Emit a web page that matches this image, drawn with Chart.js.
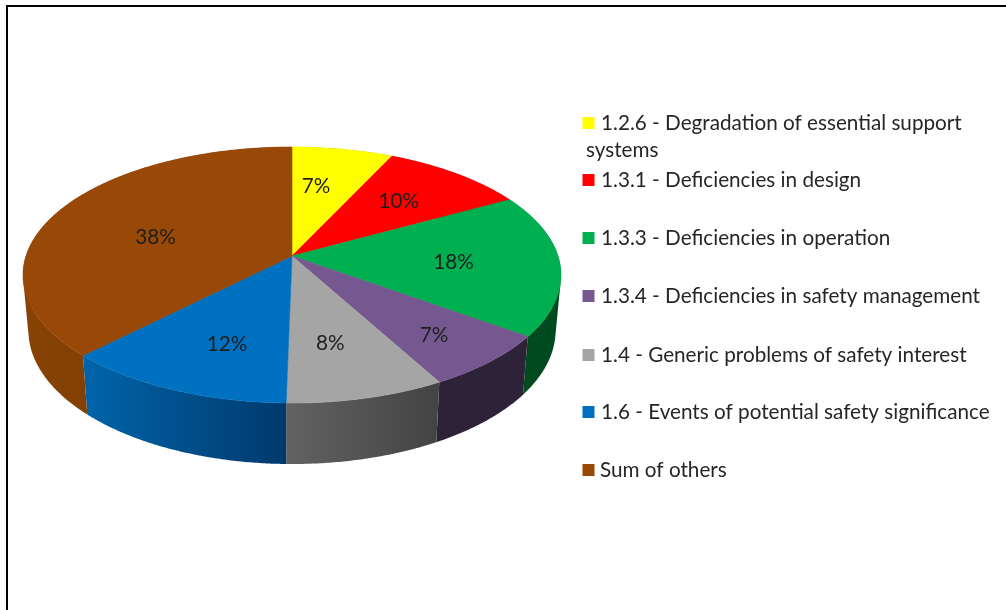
<!DOCTYPE html>
<html>
<head>
<meta charset="utf-8">
<style>
html,body{margin:0;padding:0;background:#fff;overflow:hidden}
#wrap{position:relative;width:1006px;height:610px}
#frame{position:absolute;left:6px;top:5px;right:0;bottom:0;border-left:2px solid #000;border-top:2px solid #000}
canvas{position:absolute;left:0;top:0}
</style>
<script src="https://cdn.jsdelivr.net/npm/chart.js@4/dist/chart.umd.js"></script>
</head>
<body>
<div id="wrap"><div id="frame"></div><canvas id="c" width="1006" height="610"></canvas></div>
<script>
const categories = [
  "1.2.6 - Degradation of essential support systems",
  "1.3.1 - Deficiencies in design",
  "1.3.3 - Deficiencies in operation",
  "1.3.4 - Deficiencies in safety management",
  "1.4 - Generic problems of safety interest",
  "1.6 - Events of potential safety significance",
  "Sum of others"
];
const shareValues = [7.0, 10.0, 18.0, 7.0, 8.3, 12.1, 37.6];
const faceColors = ["#FFFF00", "#FF0000", "#00B050", "#74588F", "#A5A5A5", "#0070C0", "#984807"];
const wallLeftColors = ["#8A8A00", "#8A0000", "#004A20", "#2E2238", "#626262", "#0064AA", "#874204"];
const wallRightColors = ["#8A8A00", "#8A0000", "#004A20", "#2E2238", "#434343", "#003A6C", "#783902"];
const FONT = 'Lato, Carlito, sans-serif';
const FONT_SIZE = 20.7;

// Perspective projection of the flat pie disc (tilted towards the viewer).
const K = 0.1484, SX = 266 / 246, SY = 125.2 / 246;
function project(el, angle, frac) {
  const t = angle + Math.PI / 2, s = Math.sin(t) * frac, c = Math.cos(t) * frac;
  const w = 1 + K * c, R = el.outerRadius;
  return { x: el.x + R * SX * s / w, y: el.y - R * SY * c / w };
}
function lower(el, p) { // rim of the underside of the disc
  return { x: el.x + (p.x - el.x) * 0.98, y: el.y + (p.y - el.y) * 1.045 + 54.4 };
}
function arcPoints(el) {
  const pts = [], a = el.startAngle, b = el.endAngle, n = Math.max(2, Math.ceil((b - a) / 0.008));
  for (let i = 0; i <= n; i++) pts.push(project(el, a + (b - a) * i / n, 1));
  return pts;
}

class Arc3D extends Chart.ArcElement {
  static id = 'arc3d';
  draw(ctx) {
    const pts = arcPoints(this), col = this.options.backgroundColor;
    ctx.save();
    ctx.beginPath();
    ctx.moveTo(this.x, this.y);
    pts.forEach(p => ctx.lineTo(p.x, p.y));
    ctx.closePath();
    ctx.fillStyle = col;
    ctx.strokeStyle = col;
    ctx.lineWidth = 0.6;
    ctx.lineJoin = 'round';
    ctx.fill();
    ctx.stroke();
    ctx.restore();
  }
}

class Pie3DController extends Chart.PieController {
  static id = 'pie3d';
  static defaults = { dataElementType: 'arc3d' };
  draw() {
    const ctx = this.chart.ctx;
    this.getMeta().data.forEach((el, i) => {
      const pts = arcPoints(el), low = pts.map(p => lower(el, p));
      const xs = pts.concat(low).map(p => p.x);
      const g = ctx.createLinearGradient(Math.min(...xs), 0, Math.max(...xs), 0);
      g.addColorStop(0, wallLeftColors[i]);
      g.addColorStop(1, wallRightColors[i]);
      ctx.save();
      ctx.fillStyle = g;
      ctx.beginPath();
      // One path of same-winding quads: their union fills without seams.
      for (let j = 0; j < pts.length - 1; j++) {
        let q = [pts[j], pts[j + 1], low[j + 1], low[j]];
        let area = 0;
        q.forEach((p, k) => { const n = q[(k + 1) % 4]; area += p.x * n.y - n.x * p.y; });
        if (area < 0) q = q.reverse();
        q.forEach((p, k) => k ? ctx.lineTo(p.x, p.y) : ctx.moveTo(p.x, p.y));
        ctx.closePath();
      }
      ctx.fill('nonzero');
      ctx.restore();
    });
    super.draw();
  }
}
Chart.register(Arc3D, Pie3DController);

const labelFrac = 0.62;
const labelNudge = [[-9, 0], [1, -2], [-4, 1], [25, 17], [-5, 5], [5, 10], [11, 10]];
const pctLabels = {
  id: 'pctLabels',
  afterDatasetsDraw(chart) {
    const ctx = chart.ctx, total = shareValues.reduce((a, b) => a + b, 0);
    ctx.save();
    ctx.font = FONT_SIZE + 'px ' + FONT;
    ctx.fillStyle = '#1f1f1f';
    ctx.textAlign = 'center';
    ctx.textBaseline = 'middle';
    chart.getDatasetMeta(0).data.forEach((el, i) => {
      const p = project(el, (el.startAngle + el.endAngle) / 2, labelFrac);
      ctx.fillText(Math.round(shareValues[i] / total * 100) + '%', p.x + labelNudge[i][0], p.y + labelNudge[i][1]);
    });
    ctx.restore();
  }
};

const legendLines = [["1.2.6 - Degradation of essential support", "systems"]];
const legendBaselines = [130, 187, 245, 303, 362, 419, 477];
const sideLegend = {
  id: 'sideLegend',
  afterDraw(chart) {
    const ctx = chart.ctx;
    ctx.save();
    ctx.font = FONT_SIZE + 'px ' + FONT;
    ctx.textBaseline = 'alphabetic';
    categories.forEach((name, i) => {
      const y = legendBaselines[i];
      ctx.fillStyle = faceColors[i];
      ctx.fillRect(582.5, y - 13, 12, 12);
      ctx.fillStyle = '#262626';
      if (i === 0) {
        ctx.fillText(legendLines[0][0], 601, y);
        ctx.fillText(legendLines[0][1], 586, y + 27);
      } else {
        ctx.fillText(name, i === 6 ? 600 : 601, y);
      }
    });
    ctx.restore();
  }
};

new Chart(document.getElementById('c'), {
  type: 'pie3d',
  data: {
    labels: categories,
    datasets: [{ data: shareValues, backgroundColor: faceColors, borderWidth: 0, clip: false }]
  },
  options: {
    responsive: false,
    animation: false,
    layout: { padding: { left: 46, right: 468, top: 10, bottom: 108 } },
    plugins: { legend: { display: false }, tooltip: { enabled: false }, title: { display: false } }
  },
  plugins: [pctLabels, sideLegend]
});
</script>
</body>
</html>
